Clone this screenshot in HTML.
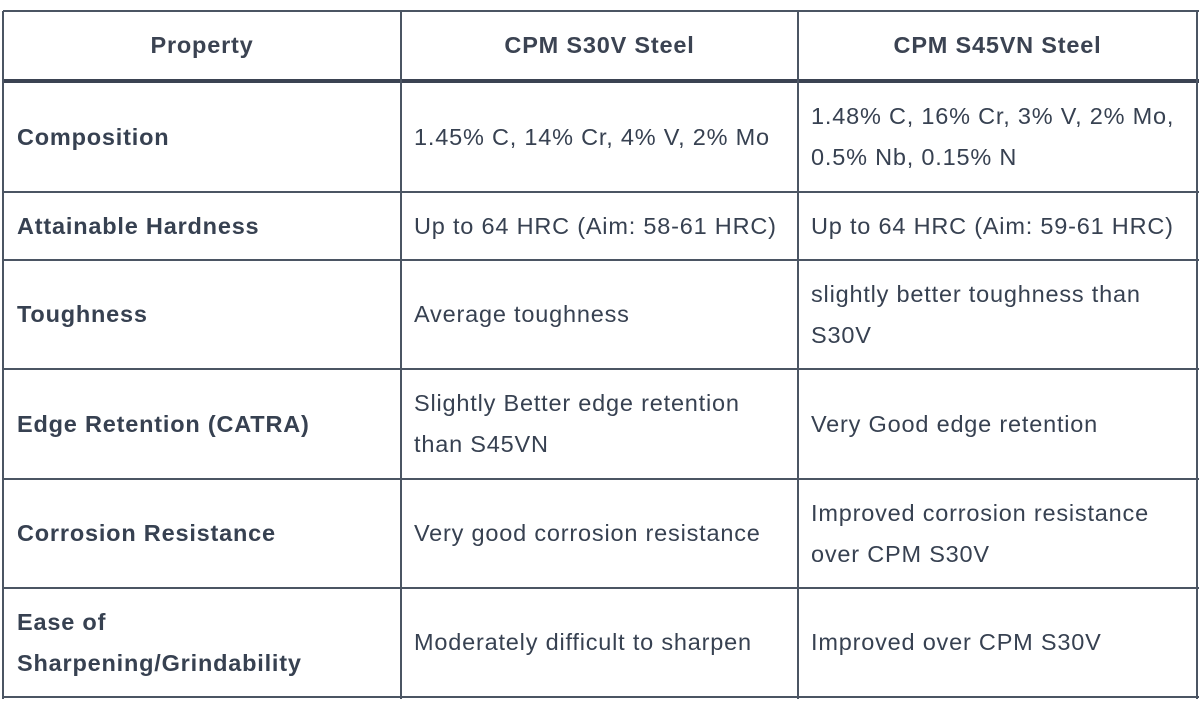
<!DOCTYPE html>
<html><head><meta charset="utf-8"><style>
body{margin:0;width:1200px;height:708px;background:#fff;position:relative;overflow:hidden;font-family:"Liberation Sans",sans-serif;color:#374151}
.h{position:absolute;left:3px;width:1196px;height:2px;background:#4b5563}
.v{position:absolute;top:11px;height:688px;width:2px;background:#4b5563}
.c{position:absolute;display:flex;align-items:center;font-size:23.5px;letter-spacing:0.8px;line-height:41px;white-space:nowrap}
.hd{justify-content:center;font-weight:bold;color:#3b4352}
.b{font-weight:bold}
</style></head><body>
<div class="h" style="top:10px"></div>
<div class="h" style="top:79px;height:4px;background:#3b4352"></div>
<div class="h" style="top:191px"></div>
<div class="h" style="top:259px"></div>
<div class="h" style="top:368px"></div>
<div class="h" style="top:478px"></div>
<div class="h" style="top:587px"></div>
<div class="h" style="top:696px"></div>
<div class="v" style="left:2px"></div>
<div class="v" style="left:400px"></div>
<div class="v" style="left:797px"></div>
<div class="v" style="left:1196px"></div>

<div class="c hd" style="left:4px;width:396px;top:12px;height:67px">Property</div>
<div class="c hd" style="left:402px;width:395px;top:12px;height:67px">CPM S30V Steel</div>
<div class="c hd" style="left:799px;width:397px;top:12px;height:67px">CPM S45VN Steel</div>

<div class="c b" style="left:17px;top:83px;height:108px">Composition</div>
<div class="c" style="left:414px;top:83px;height:108px">1.45% C, 14% Cr, 4% V, 2% Mo</div>
<div class="c" style="left:811px;top:83px;height:108px">1.48% C, 16% Cr, 3% V, 2% Mo,<br>0.5% Nb, 0.15% N</div>

<div class="c b" style="left:17px;top:193px;height:66px">Attainable Hardness</div>
<div class="c" style="left:414px;top:193px;height:66px">Up to 64 HRC (Aim: 58-61 HRC)</div>
<div class="c" style="left:811px;top:193px;height:66px">Up to 64 HRC (Aim: 59-61 HRC)</div>

<div class="c b" style="left:17px;top:261px;height:107px">Toughness</div>
<div class="c" style="left:414px;top:261px;height:107px">Average toughness</div>
<div class="c" style="left:811px;top:261px;height:107px">slightly better toughness than<br>S30V</div>

<div class="c b" style="left:17px;top:370px;height:108px">Edge Retention (CATRA)</div>
<div class="c" style="left:414px;top:370px;height:108px">Slightly Better edge retention<br>than S45VN</div>
<div class="c" style="left:811px;top:370px;height:108px">Very Good edge retention</div>

<div class="c b" style="left:17px;top:480px;height:107px">Corrosion Resistance</div>
<div class="c" style="left:414px;top:480px;height:107px">Very good corrosion resistance</div>
<div class="c" style="left:811px;top:480px;height:107px">Improved corrosion resistance<br>over CPM S30V</div>

<div class="c b" style="left:17px;top:589px;height:107px">Ease of<br>Sharpening/Grindability</div>
<div class="c" style="left:414px;top:589px;height:107px">Moderately difficult to sharpen</div>
<div class="c" style="left:811px;top:589px;height:107px">Improved over CPM S30V</div>
</body></html>
